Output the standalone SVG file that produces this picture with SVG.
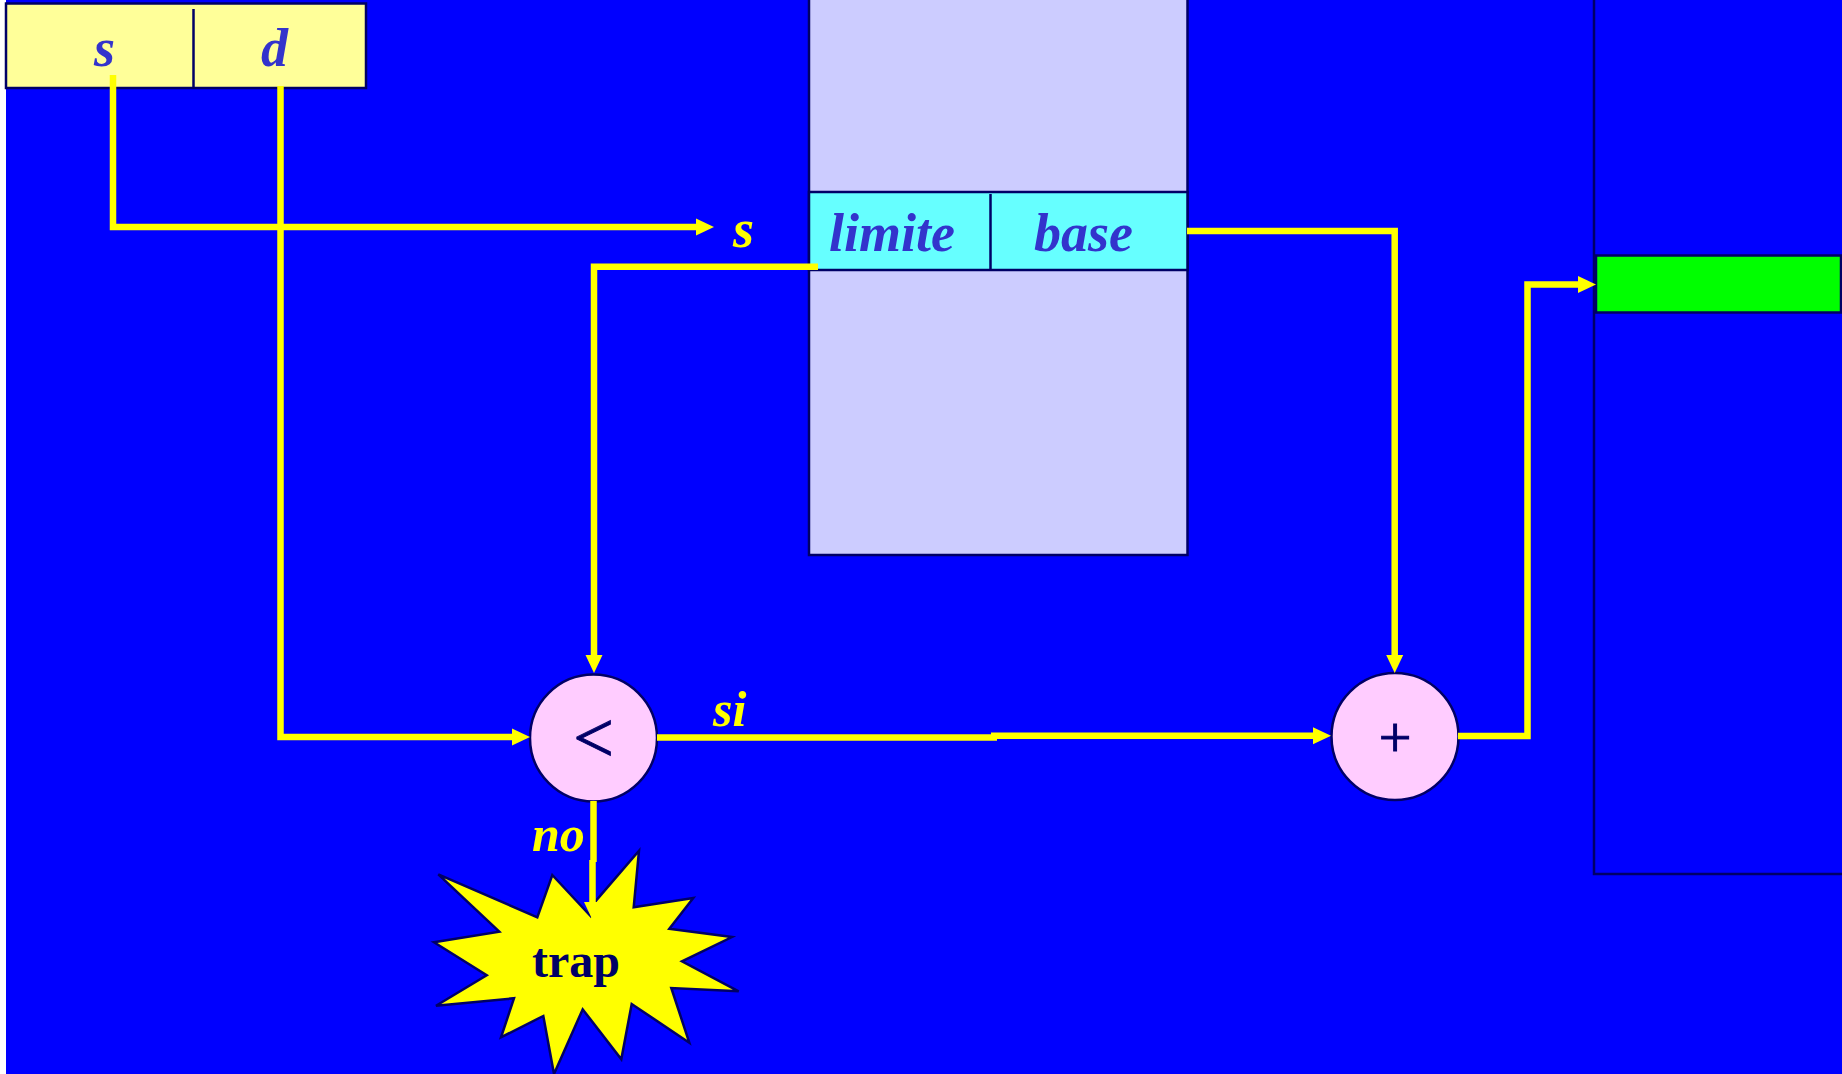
<svg xmlns="http://www.w3.org/2000/svg" width="1842" height="1074" viewBox="0 0 1842 1074">
<style>
.box{stroke:#000066;stroke-width:2.500}
.div{stroke:#000066;stroke-width:2.500;fill:none}
.lab{font-family:"Liberation Serif","Times New Roman",serif;font-weight:bold;font-style:italic;font-size:54px}
.small{font-size:50px}
.in{fill:#3333cc}
.out{fill:#ffff00}
.op{font-family:"Liberation Serif","Times New Roman",serif;fill:#000066;stroke:#000066;stroke-width:1;text-anchor:middle}
.con{fill:none;stroke:#ffff00;stroke-width:6.500;stroke-linejoin:miter}
</style>
<defs>
<marker id="head" markerUnits="userSpaceOnUse" markerWidth="20" markerHeight="20" refX="0" refY="9" orient="auto" viewBox="0 0 20 18">
<path d="M0 0.5L18 9L0 17.5Z" fill="#ffff00"/>
</marker>
</defs>
<rect width="1842" height="1074" fill="#ffffff"/>
<rect x="6" y="0" width="1836" height="1074" fill="#0000ff"/>
<g id="instruction">
<rect class="box" x="6" y="3.500" width="360" height="84.500" fill="#ffff99"/>
<line class="div" x1="193.500" y1="9" x2="193.500" y2="88"/>
<text class="lab in" x="94" y="66">s</text>
<text class="lab in" x="261" y="66">d</text>
</g>
<g id="segment-table">
<rect class="box" x="809" y="-4" width="378.500" height="559" fill="#ccccff"/>
<rect class="box" x="809" y="192" width="378.500" height="78" fill="#66ffff"/>
<line class="div" x1="990.500" y1="194" x2="990.500" y2="270"/>
<text class="lab in" x="829" y="251">limite</text>
<text class="lab in" x="1034" y="251">base</text>
</g>
<g id="memory">
<path class="div" d="M1594 0V874H1842"/>
<rect class="box" x="1596" y="255.500" width="245" height="57" fill="#00ff00"/>
</g>
<g id="compare">
<circle class="box" cx="593.500" cy="738" r="63.500" fill="#ffccff"/>
<text class="op" x="593.500" y="762" font-size="72">&lt;</text>
</g>
<g id="adder">
<circle class="box" cx="1395" cy="736.500" r="63.500" fill="#ffccff"/>
<text class="op" x="1395" y="757" font-size="58">+</text>
</g>
<g id="trap">
<polygon class="box" fill="#ffff00" points="438.300,874.300 537.300,917.300 552.300,875 590.500,916 596,900.700 639,850.700 633.700,907.300 693.300,898 669.300,928.700 732,937 682,961.300 738.700,991.300 671.300,988 689.300,1042.700 631.700,1004 621.300,1059.300 582.700,1009.300 554,1074 543.300,1016 501,1037.300 514,998.300 436,1005.700 486.700,975.300 434,942.300 499.300,931.700"/>
<text x="532" y="977" font-family="'Liberation Serif','Times New Roman',serif" font-weight="bold" font-size="48" fill="#000066">trap</text>
</g>
<g id="connectors">
<path class="con" d="M113 75V227H696" marker-end="url(#head)"/>
<path class="con" d="M280.500 86V737H512" marker-end="url(#head)"/>
<path class="con" d="M818 266.700H594V655" marker-end="url(#head)"/>
<path class="con" d="M1187 231H1394.700V655" marker-end="url(#head)"/>
<path class="con" d="M657 737.500H997"/>
<path class="con" d="M991 735.700H1313" marker-end="url(#head)"/>
<path class="con" d="M1458 736H1527.500V284.500H1578" marker-end="url(#head)"/>
<path class="con" d="M593.500 801V862"/>
<path class="con" d="M592.500 860V902" marker-end="url(#head)"/>
</g>
<g id="labels">
<text class="lab out" x="733" y="247">s</text>
<text class="lab out small" x="713" y="726">si</text>
<text class="lab out small" x="532" y="851">no</text>
</g>
</svg>
